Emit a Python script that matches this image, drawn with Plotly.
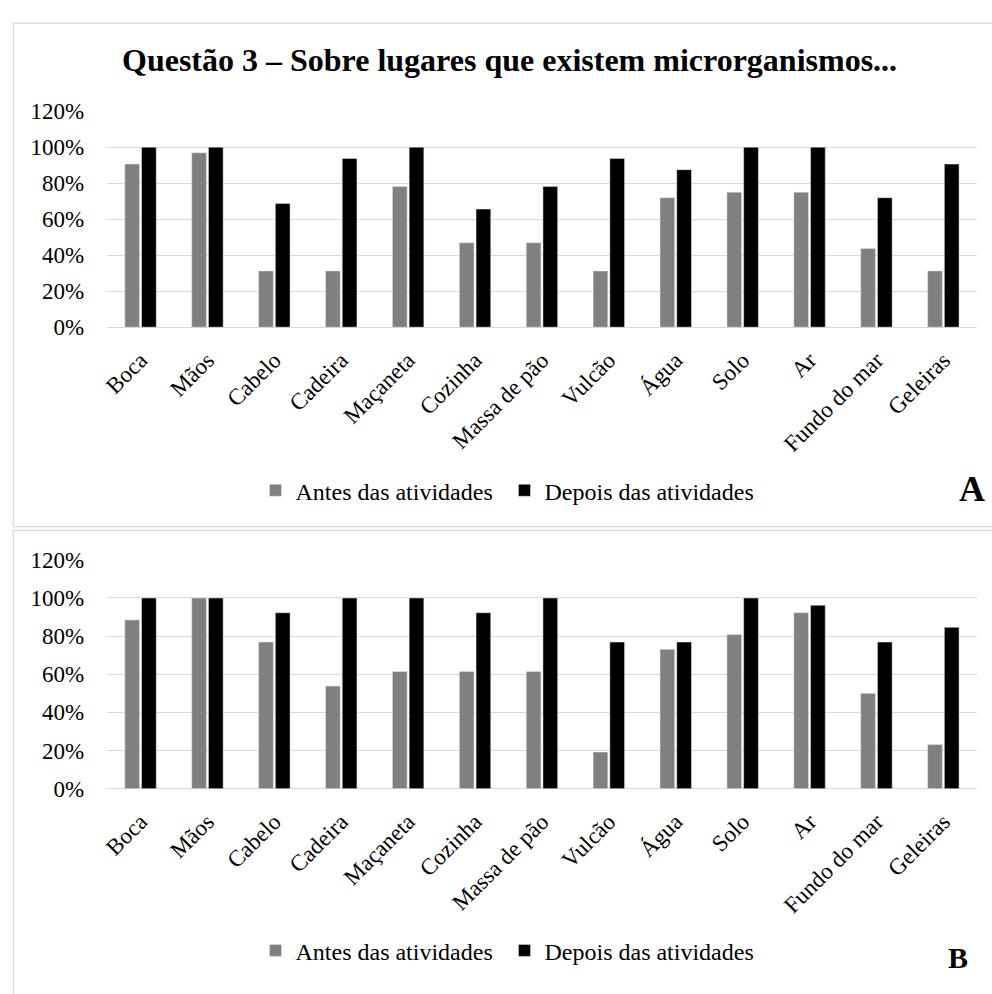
import plotly.graph_objects as go

categories = ["Boca", "Mãos", "Cabelo", "Cadeira", "Maçaneta", "Cozinha", "Massa de pão",
              "Vulcão", "Água", "Solo", "Ar", "Fundo do mar", "Geleiras"]

a_antes = [0.906, 0.969, 0.3125, 0.3125, 0.781, 0.469, 0.469, 0.3125, 0.719, 0.75, 0.75, 0.4375, 0.3125]
a_depois = [1.0, 1.0, 0.6875, 0.9375, 1.0, 0.656, 0.781, 0.9375, 0.875, 1.0, 1.0, 0.719, 0.906]
b_antes = [0.885, 1.0, 0.769, 0.538, 0.615, 0.615, 0.615, 0.192, 0.731, 0.808, 0.923, 0.50, 0.231]
b_depois = [1.0, 1.0, 0.923, 1.0, 1.0, 0.923, 1.0, 0.769, 0.769, 1.0, 0.962, 0.769, 0.846]

series_names = ["Antes das atividades", "Depois das atividades"]
title_text = "Questão 3 – Sobre lugares que existem microrganismos..."
y_ticks = [0, 0.2, 0.4, 0.6, 0.8, 1.0, 1.2]

W, H = 992, 994
FONT = "Liberation Serif, Times New Roman, serif"
GRAY = "#808080"
BLACK = "#000000"
GRID = "#d9d9d9"

fig = go.Figure()
fig.add_trace(go.Bar(x=categories, y=a_antes, name=series_names[0], marker_color=GRAY,
                     xaxis="x", yaxis="y", legend="legend"))
fig.add_trace(go.Bar(x=categories, y=a_depois, name=series_names[1], marker_color=BLACK,
                     xaxis="x", yaxis="y", legend="legend"))
fig.add_trace(go.Bar(x=categories, y=b_antes, name=series_names[0], marker_color=GRAY,
                     xaxis="x2", yaxis="y2", legend="legend2"))
fig.add_trace(go.Bar(x=categories, y=b_depois, name=series_names[1], marker_color=BLACK,
                     xaxis="x2", yaxis="y2", legend="legend2"))

def py(p):
    return 1 - p / H

def px(p):
    return p / W

xdom = [px(101.7), px(976.7)]
xaxis_common = dict(domain=xdom, showgrid=False, zeroline=False, showline=False, ticks="",
                    tickangle=-45, ticklabelstandoff=14,
                    tickfont=dict(family=FONT, size=23, color="#000"),
                    fixedrange=True)
yaxis_common = dict(range=[0, 1.2], tickvals=y_ticks, tickformat=".0%", showgrid=True,
                    gridcolor=GRID, gridwidth=1.3, zeroline=True, zerolinecolor=GRID,
                    zerolinewidth=1.3, showline=False, ticks="", ticklabelstandoff=22,
                    tickfont=dict(family=FONT, size=23, color="#000"), fixedrange=True)

legend_common = dict(orientation="h", xanchor="left", yanchor="middle",
                     font=dict(family=FONT, size=24, color="#000"),
                     bgcolor="rgba(0,0,0,0)", itemclick=False, itemdoubleclick=False,
                     entrywidth=204, entrywidthmode="pixels", traceorder="normal")

fig.update_layout(
    width=W, height=H, margin=dict(l=0, r=0, t=0, b=0),
    paper_bgcolor="white", plot_bgcolor="white",
    barmode="group", bargap=0.5, bargroupgap=0.12,
    showlegend=True,
    xaxis=dict(**xaxis_common, anchor="y"),
    yaxis=dict(**yaxis_common, domain=[py(323.3), py(101.7)], anchor="x"),
    xaxis2=dict(**xaxis_common, anchor="y2"),
    yaxis2=dict(**yaxis_common, domain=[py(796.7), py(562.0)], anchor="x2"),
    legend=dict(**legend_common, x=px(251), y=py(491)),
    legend2=dict(**legend_common, x=px(251), y=py(963)),
    shapes=[
        dict(type="rect", xref="paper", yref="paper", x0=px(7.3), x1=px(1010),
             y0=py(528), y1=py(11.7), line=dict(color=GRID, width=1.3), fillcolor="rgba(0,0,0,0)"),
        dict(type="rect", xref="paper", yref="paper", x0=px(7.3), x1=px(1010),
             y0=py(1010), y1=py(531.7), line=dict(color=GRID, width=1.3), fillcolor="rgba(0,0,0,0)"),
    ],
    annotations=[
        dict(text="<b>" + title_text + "</b>", x=px(506.5), y=py(49), xref="paper", yref="paper",
             xanchor="center", yanchor="middle", showarrow=False,
             font=dict(family=FONT, size=32, color="#000")),
        dict(text="<b>A</b>", x=px(972), y=py(489), xref="paper", yref="paper",
             xanchor="center", yanchor="middle", showarrow=False,
             font=dict(family=FONT, size=36, color="#000")),
        dict(text="<b>B</b>", x=px(958), y=py(970), xref="paper", yref="paper",
             xanchor="center", yanchor="middle", showarrow=False,
             font=dict(family=FONT, size=30, color="#000")),
    ],
)

fig.write_html("out.html", config={"displayModeBar": False})
